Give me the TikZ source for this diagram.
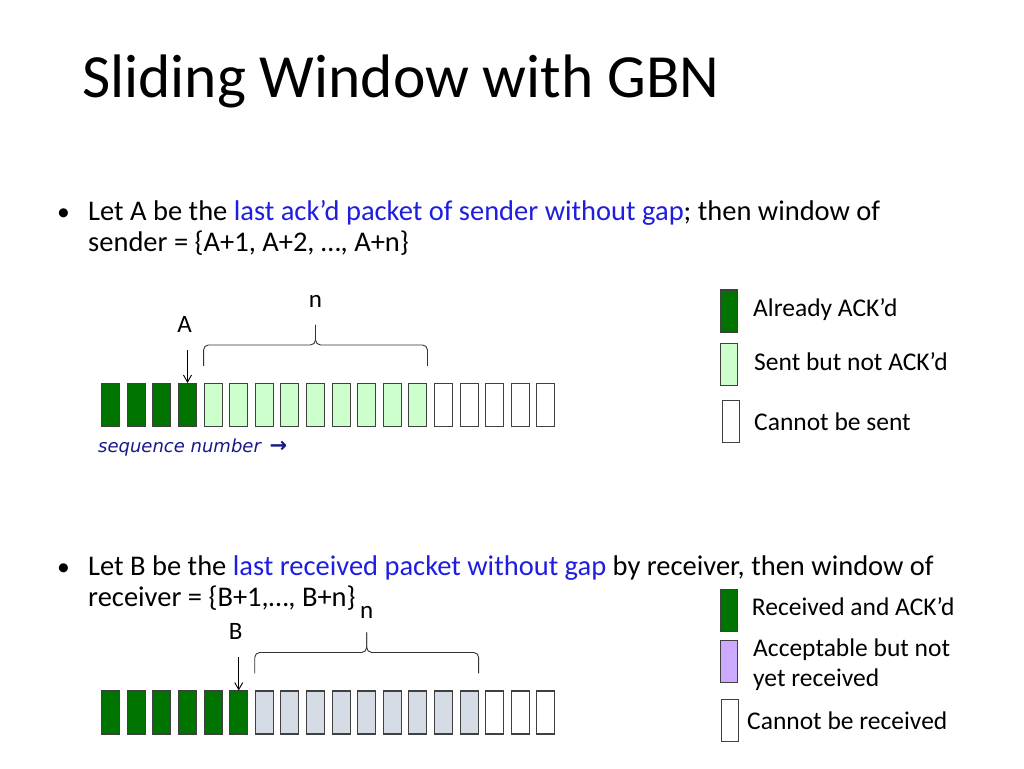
\documentclass[tikz,border=0pt]{standalone}
\usepackage{fontspec}
\setmainfont{Carlito}
\newfontfamily\seqfont{DejaVu Sans}
\usetikzlibrary{arrows.meta,positioning,calc}

\definecolor{ackgreen}{RGB}{0,116,0}
\definecolor{sentgreen}{RGB}{204,255,204}
\definecolor{waitgray}{RGB}{214,220,229}
\definecolor{okpurple}{RGB}{204,170,255}
\definecolor{hiblue}{RGB}{30,30,225}
\definecolor{seqblue}{RGB}{25,25,140}
\definecolor{pktline}{RGB}{64,64,64}

% window brace over the boxes #1 ... #2, tip named #3
\newcommand\winbrace[3]{%
\coordinate (#3) at ($(#1.north west)!.5!(#2.north east)+(0,-58)$);
\draw[brace] ($(#1.north west)+(0,-17)$) |- ($(#3)+(0,20)$) -- (#3);
\draw[brace] ($(#2.north east)+(0,-17)$) |- ($(#3)+(0,20)$) -- (#3);
}

\begin{document}
\begin{tikzpicture}[x=1pt,y=-1pt]
\tikzset{pkt/.style={draw=pktline,line width=1.1pt,minimum width=18pt,minimum height=43pt,inner sep=0pt}}
\tikzset{legbox/.style={pkt,minimum width=17pt,minimum height=42pt}}
\tikzset{bodytxt/.style={anchor=base west,inner sep=0pt,font=\fontsize{28.5}{31}\selectfont}}
\tikzset{legtxt/.style={anchor=base west,inner sep=0pt,font=\fontsize{25.5}{30}\selectfont}}
\tikzset{lbl/.style={anchor=base,inner sep=0pt,font=\fontsize{25}{26}\selectfont}}
\tikzset{brace/.style={draw=black!80,line width=0.9pt,rounded corners=5pt}}
\tikzset{ptr/.style={-{Straight Barb[length=7pt,width=8pt]},line width=0.9pt}}

\fill[white] (0,0) rectangle (1024,768);
\useasboundingbox (0,0) rectangle (1024,768);

\node[anchor=base west,inner sep=0pt,font=\fontsize{61.4}{70}\selectfont] (title) at (82,97) {Sliding Window with GBN};

% sender
\node[bodytxt,font=\fontsize{25.6}{31}\selectfont] (dotA) at (57,220.7) {•};
\node[bodytxt] (sndA) at (88,220.7) {Let A be the \textcolor{hiblue}{last ack’d packet of sender without gap}; then window of};
\node[bodytxt] (sndB) at (88,251.7) {sender = \{A+1, A+2, …, A+n\}};

\foreach \i in {1,...,4}
  \node[pkt,fill=ackgreen] (s\i) at ({110.7+(\i-1)*25.6},405) {};
\foreach \i in {5,...,13}
  \node[pkt,fill=sentgreen] (s\i) at ({110.7+(\i-1)*25.6},405) {};
\foreach \i in {14,...,18}
  \node[pkt,fill=white] (s\i) at ({110.7+(\i-1)*25.6},405) {};

\winbrace{s5}{s13}{stip}
\node[lbl] (sn) at ($(stip)+(0,-17)$) {n};
\node[lbl] (labA) at ($(s4.north)+(-3,-50)$) {A};
\coordinate (atail) at ($(s4.north)+(0,-33)$);
\draw[ptr] (atail) -- (s4.north);

\node[anchor=base west,inner sep=0pt,text=seqblue,font=\seqfont\itshape\fontsize{18}{20}\selectfont] (seq) at (98,452) {sequence number \,{\fontsize{21}{20}\selectfont\upshape\bfseries →}};

\node[legbox,fill=ackgreen] (k1) at (729.2,311) {};
\node[legbox,fill=sentgreen] (k2) at (729.2,364.7) {};
\node[legbox,fill=white] (k3) at (731.3,421.9) {};
\node[legtxt] (t1) at (753,316) {Already ACK’d};
\node[legtxt] (t2) at (754,370.7) {Sent but not ACK’d};
\node[legtxt] (t3) at (754,430.7) {Cannot be sent};

% receiver
\node[bodytxt,font=\fontsize{25.6}{31}\selectfont] (dotB) at (57,575) {•};
\node[bodytxt] (rcvA) at (88,575) {Let B be the \textcolor{hiblue}{last received packet without gap} by receiver, then window of};
\node[bodytxt] (rcvB) at (88,606) {receiver = \{B+1,…, B+n\}};

\foreach \i in {1,...,6}
  \node[pkt,fill=ackgreen] (r\i) at ({110.7+(\i-1)*25.6},712.5) {};
\foreach \i in {7,...,15}
  \node[pkt,fill=waitgray] (r\i) at ({110.7+(\i-1)*25.6},712.5) {};
\foreach \i in {16,...,18}
  \node[pkt,fill=white] (r\i) at ({110.7+(\i-1)*25.6},712.5) {};

\winbrace{r7}{r15}{rtip}
\node[lbl] (rn) at ($(rtip)+(0,-14)$) {n};
\node[lbl] (labB) at ($(r6.north)+(-3,-51)$) {B};
\coordinate (btail) at ($(r6.north)+(0,-33)$);
\draw[ptr] (btail) -- (r6.north);

\node[legbox,fill=ackgreen] (m1) at (729.2,610.3) {};
\node[legbox,fill=okpurple] (m2) at (729.2,661.3) {};
\node[legbox,fill=white] (m3) at (730,720.8) {};
\node[legtxt] (u1) at (751.7,615) {Received and ACK’d};
\node[legtxt] (u2) at (753,656) {Acceptable but not};
\node[legtxt] (u2b) at (753,686) {yet received};
\node[legtxt] (u3) at (747,729.3) {Cannot be received};
\end{tikzpicture}
\end{document}
